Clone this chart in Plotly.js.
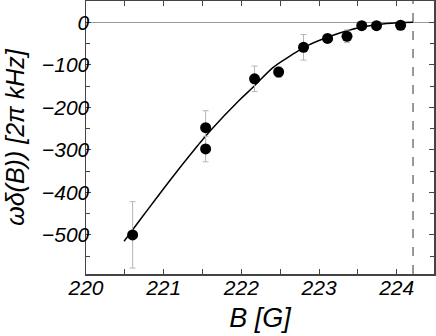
<!DOCTYPE html>
<html>
<head>
<meta charset="utf-8">
<script src="https://cdn.plot.ly/plotly-3.0.1.min.js"></script>
<style>
  html, body { margin: 0; padding: 0; background: #fff; }
  #chart { width: 436px; height: 336px; }
</style>
</head>
<body>
<div id="chart"></div>
<script>
// measured points (field in G, shift in 2pi kHz)
var bField = [220.60, 221.54, 221.54, 222.17, 222.48, 222.80, 223.11, 223.36, 223.55, 223.74, 224.05];
var shift  = [-500, -248, -298, -133, -117, -59, -38, -33, -8, -8, -7];
var shiftErr = [78, 40, 30, 30, 12, 30, 6, 15, 3, 3, 3];

// fit line
var fitB = [220.49, 220.74, 221.08, 221.42, 221.60, 221.97, 222.15, 222.41, 222.63, 222.84, 223.10, 223.36, 223.61, 223.87, 224.21];
var fitShift = [-515, -454, -372, -294, -255, -184, -153, -106, -79, -56, -36, -20, -9.5, -3, 0];

// resonance position (dashed line)
var resonanceB = 224.21;

var labelFont = { family: "Liberation Sans, Arial, sans-serif", size: 21, color: "#000", style: "italic" };

var data = [
  {
    type: "scatter",
    mode: "lines",
    x: fitB,
    y: fitShift,
    line: { color: "#000", width: 1.5, shape: "spline" },
    hoverinfo: "skip",
    showlegend: false
  },
  {
    type: "scatter",
    mode: "markers",
    x: bField,
    y: shift,
    marker: { size: 11, color: "#000" },
    error_y: { type: "data", array: shiftErr, visible: true, color: "#b5b5b5", thickness: 1, width: 3 },
    showlegend: false
  }
];

var layout = {
  width: 436,
  height: 336,
  margin: { l: 86, r: 2, t: 1, b: 62 },
  paper_bgcolor: "#fff",
  plot_bgcolor: "#fff",
  font: labelFont,
  xaxis: {
    range: [220, 224.48],
    tickvals: [220, 221, 222, 223, 224],
    ticks: "inside",
    ticklen: 5,
    tickcolor: "#444",
    minor: { dtick: 0.5, ticks: "inside", ticklen: 5, tickcolor: "#444" },
    showline: true,
    linecolor: "#444",
    linewidth: 1.5,
    mirror: "allticks",
    showgrid: false,
    zeroline: false,
    tickfont: labelFont,
    ticklabelstandoff: -6,
    title: { text: "B [G]", font: { family: "Liberation Sans, Arial, sans-serif", size: 27, style: "italic", color: "#000" }, standoff: 10 }
  },
  yaxis: {
    range: [-592, 50],
    tickvals: [0, -100, -200, -300, -400, -500],
    ticks: "inside",
    ticklen: 5,
    tickcolor: "#444",
    minor: { dtick: 50, ticks: "inside", ticklen: 4, tickcolor: "#444" },
    showline: true,
    linecolor: "#444",
    linewidth: 1.5,
    mirror: "allticks",
    showgrid: false,
    zeroline: true,
    zerolinecolor: "#999",
    zerolinewidth: 1,
    tickfont: labelFont,
    ticklabelstandoff: -9,
    title: { text: "ωδ(B)) [2π kHz]", font: { family: "Liberation Sans, Arial, sans-serif", size: 25, style: "italic", color: "#000" }, standoff: 10 }
  },
  shapes: [
    {
      type: "line",
      xref: "x",
      yref: "paper",
      x0: resonanceB,
      x1: resonanceB,
      y0: 0,
      y1: 1,
      line: { color: "#333", width: 1, dash: "dash" }
    }
  ]
};

Plotly.newPlot("chart", data, layout, { displayModeBar: false, staticPlot: true });
</script>
</body>
</html>
